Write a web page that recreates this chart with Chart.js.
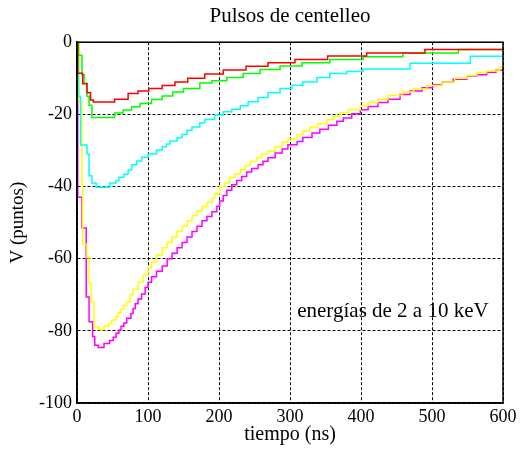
<!DOCTYPE html>
<html>
<head>
<meta charset="utf-8">
<script src="https://cdn.jsdelivr.net/npm/chart.js@4.4.1/dist/chart.umd.min.js"></script>
<style>
  html, body { margin: 0; padding: 0; background: #fff; }
  #wrap { width: 522px; height: 455px; }
</style>
</head>
<body>
<div id="wrap"><canvas id="pulseChart" width="522" height="455"></canvas></div>
<script>
// time (ns) at which each trace changes level, and the level it goes to
var redT = [0, 1, 8, 14, 19, 23, 53, 72, 86, 101, 120, 138, 156, 180, 206, 238, 269, 307, 353, 408, 490, 600];
var redV = [0, -8.6, -11.5, -14, -16, -16.6, -15.8, -14.2, -13.5, -12.8, -12, -11, -10, -8.8, -7.7, -6.7, -5.7, -4.8, -3.8, -3, -2, -2];

var greenT = [0, 2, 7, 10, 14, 17, 21, 53, 65, 77, 89, 105, 120, 135, 150, 173, 190, 211, 234, 258, 286, 317, 356, 403, 459, 537, 600];
var greenV = [0, -3.6, -9, -11.4, -15, -17.5, -20.9, -19.6, -18.8, -17.9, -17, -15.9, -14.9, -13.8, -12.8, -11.3, -10.7, -9.8, -8.7, -7.6, -6.6, -5.7, -4.8, -4, -3, -2, -2];

var cyanT = [0, 2, 5, 14, 17, 21, 27, 46, 55, 59, 66, 72, 77, 84, 91, 100, 112, 120, 126, 131, 141, 148, 155, 162, 173, 180, 194, 206, 218, 230, 241, 255, 269, 286, 303, 318, 338, 356, 380, 403, 469, 554, 600];
var cyanV = [0, -15, -28.5, -31, -37, -39, -40.2, -39, -38.4, -37.4, -36.6, -35.4, -34, -32.9, -31.9, -31, -29.9, -29, -28.2, -27.4, -26.5, -25.6, -24.4, -23.5, -22.3, -21.4, -20.2, -19.3, -18.6, -17.6, -16.5, -15.3, -14, -12.8, -11.9, -11, -9.8, -8.7, -8.1, -7.4, -5.8, -3.9, -3.9];

var yellowT = [0, 3, 7, 8, 14, 17, 20, 24, 31, 38, 45, 49, 55, 58, 62, 66, 70, 75, 79, 86, 93, 100, 105, 112, 120, 127, 134, 141, 148, 155, 162, 169, 176, 183, 190, 194, 201, 208, 215, 222, 230, 237, 244, 253, 260, 269, 279, 289, 297, 310, 318, 328, 339, 352, 361, 370, 382, 399, 410, 424, 438, 458, 474, 493, 514, 532, 549, 563, 577, 595, 600];
var yellowV = [0, -16.6, -40, -56, -59.6, -66.8, -72, -78.9, -79.6, -78.7, -78, -77, -76, -75, -74, -73, -72, -70, -68.5, -66.5, -64.5, -62.5, -61, -59, -57, -55.5, -54, -52.5, -51, -49.5, -48, -46.8, -45.6, -44.4, -43.2, -42, -40, -39, -37.5, -36.5, -35.3, -34.2, -33, -32, -31, -30.2, -29, -27.7, -26.8, -25.6, -24.6, -23.5, -22.6, -21.5, -20.5, -19.6, -18.7, -17.6, -16.7, -15.8, -14.8, -13.8, -13, -12, -11, -10, -9.2, -8.4, -8, -7, -7];

var magentaT = [0, 1, 7, 13, 17, 22, 25, 30, 38, 46, 51, 55, 59, 62, 66, 70, 76, 79, 82, 86, 91, 96, 100, 105, 112, 120, 127, 134, 141, 148, 155, 162, 169, 176, 183, 190, 197, 201, 206, 211, 218, 225, 232, 239, 246, 255, 262, 269, 279, 289, 297, 310, 318, 331, 342, 354, 366, 375, 387, 399, 410, 424, 438, 455, 469, 486, 501, 514, 530, 549, 563, 577, 590, 600];
var magentaV = [0, -43, -51.5, -70.6, -77.5, -81.6, -84, -84.6, -83.5, -82.7, -81.8, -80.7, -79.8, -78.7, -77.8, -76.5, -75.2, -73.8, -72.5, -71.2, -69.8, -68, -66.5, -65, -63.5, -62, -60, -58.5, -57, -55.5, -54, -52.5, -51, -49.5, -48.3, -47, -45.5, -44, -42.5, -41, -39.5, -38.3, -37.2, -36, -35, -34, -33, -32, -30.7, -29.6, -28.4, -27.5, -26.4, -25.2, -24.1, -23, -21.9, -21, -19.8, -18.7, -17.8, -16.7, -15.8, -14.5, -13.5, -12.6, -11.8, -11, -10.3, -9.4, -9, -8.3, -7.8, -7.8];

var xTicks = [0, 100, 200, 300, 400, 500, 600];
var yTicks = [-100, -80, -60, -40, -20, 0];

var serif = '"Liberation Serif", "Times New Roman", serif';

function pts(t, v) {
    return t.map(function(x, i) { return {x: x, y: v[i]}; });
}

function trace(label, t, v, color) {
    return {
        label: label,
        data: pts(t, v),
        borderColor: color,
        backgroundColor: color,
        borderWidth: 1.5,
        pointRadius: 0,
        stepped: 'before',
        fill: false
    };
}

// black box round the plot + the note inside it
var boxAndNote = {
    id: 'boxAndNote',
    afterDraw: function(chart) {
        var ctx = chart.ctx;
        var a = chart.chartArea;
        ctx.save();
        ctx.strokeStyle = '#000';
        ctx.lineWidth = 1.5;
        ctx.setLineDash([]);
        ctx.strokeRect(a.left, a.top, a.right - a.left, a.bottom - a.top);
        ctx.fillStyle = '#000';
        ctx.font = '21px ' + serif;
        ctx.textAlign = 'center';
        ctx.textBaseline = 'middle';
        ctx.fillText('energías de 2 a 10 keV', chart.scales.x.getPixelForValue(445), chart.scales.y.getPixelForValue(-74.5));
        ctx.restore();
    }
};

document.addEventListener('DOMContentLoaded', function() {
    var ctx = document.getElementById('pulseChart').getContext('2d');
    new Chart(ctx, {
        type: 'line',
        data: {
            datasets: [
                trace('2 keV', redT, redV, '#ff0000'),
                trace('4 keV', greenT, greenV, '#00ff00'),
                trace('6 keV', cyanT, cyanV, '#00ffff'),
                trace('8 keV', yellowT, yellowV, '#ffff00'),
                trace('10 keV', magentaT, magentaV, '#ff00ff')
            ]
        },
        options: {
            responsive: false,
            animation: false,
            layout: { padding: { left: 0, right: 19, top: 0, bottom: 0 } },
            scales: {
                x: {
                    type: 'linear',
                    min: 0,
                    max: 600,
                    afterBuildTicks: function(s) { s.ticks = xTicks.map(function(v) { return {value: v}; }); },
                    afterFit: function(s) { s.height = 52; },
                    grid: { color: '#000', lineWidth: 1, drawTicks: false },
                    border: { display: true, color: '#000', width: 1.5, dash: [3, 2] },
                    ticks: { color: '#000', padding: 3, maxRotation: 0, font: { family: serif, size: 18 } },
                    title: { display: true, text: 'tiempo (ns)', color: '#000', padding: { top: 0, bottom: 8 }, font: { family: serif, size: 20 } }
                },
                y: {
                    type: 'linear',
                    min: -100,
                    max: 0,
                    afterBuildTicks: function(s) { s.ticks = yTicks.map(function(v) { return {value: v}; }); },
                    afterFit: function(s) { s.width = 77; },
                    grid: { color: '#000', lineWidth: 1, drawTicks: false },
                    border: { display: true, color: '#000', width: 1.5, dash: [3, 2] },
                    ticks: { color: '#000', padding: 5, font: { family: serif, size: 18 } },
                    title: { display: true, text: 'V (puntos)', color: '#000', padding: { top: 7, bottom: 0 }, font: { family: serif, size: 19 } }
                }
            },
            plugins: {
                legend: { display: false },
                tooltip: { enabled: false },
                title: {
                    display: true,
                    text: 'Pulsos de centelleo',
                    color: '#000',
                    fullSize: false,
                    padding: { top: 4, bottom: 13 },
                    font: { family: serif, size: 21, weight: 'normal' }
                }
            }
        },
        plugins: [boxAndNote]
    });
});
</script>
</body>
</html>
